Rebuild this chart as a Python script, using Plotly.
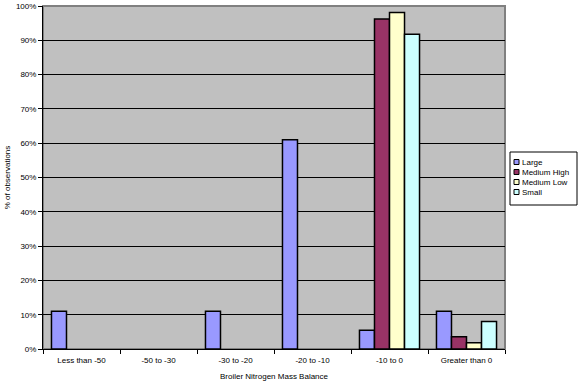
import plotly.graph_objects as go

categories = ["Less than -50", "-50 to -30", "-30 to -20", "-20 to -10", "-10 to 0", "Greater than 0"]
large = [0.11, 0.0, 0.11, 0.61, 0.055, 0.11]
medium_high = [0.0, 0.0, 0.0, 0.0, 0.962, 0.036]
medium_low = [0.0, 0.0, 0.0, 0.0, 0.981, 0.018]
small = [0.0, 0.0, 0.0, 0.0, 0.918, 0.08]

series = [
    ("Large", large, "#9999FF"),
    ("Medium High", medium_high, "#993366"),
    ("Medium Low", medium_low, "#FFFFCC"),
    ("Small", small, "#CCFFFF"),
]

W, H = 580, 383
ML_, MR_, MT_, MB_ = 43, 75, 6, 34
PW = W - ML_ - MR_
PH = H - MT_ - MB_

def px_to_paper_x(px):
    return (px - ML_) / PW

def px_to_paper_y(py):
    return (H - MB_ - py) / PH

fig = go.Figure()
for name, vals, col in series:
    fig.add_trace(go.Bar(
        x=categories, y=[v if v > 0 else None for v in vals], name=name,
        marker=dict(color=col, line=dict(color="black", width=1.5)),
        showlegend=False,
    ))

font = "Liberation Sans, Arial, sans-serif"
fig.update_layout(
    width=W, height=H,
    margin=dict(l=ML_, r=MR_, t=MT_, b=MB_, autoexpand=False),
    paper_bgcolor="white",
    plot_bgcolor="#C0C0C0",
    barmode="group",
    bargap=0.22,
    bargroupgap=0,
    font=dict(family=font, size=8, color="black"),
    showlegend=False,
    xaxis=dict(
        title=dict(text="Broiler Nitrogen Mass Balance", font=dict(size=8), standoff=9),
        showline=True, linecolor="black", linewidth=1,
        ticks="outside", tickson="boundaries", ticklen=4, tickcolor="black",
        ticklabelstandoff=3,
        showgrid=False,
    ),
    yaxis=dict(
        title=dict(text="% of observations", font=dict(size=8), standoff=4),
        range=[0, 1.0], dtick=0.1, tickformat=".0%",
        showline=True, linecolor="black", linewidth=1,
        ticks="outside", ticklen=4, tickcolor="black",
        showgrid=True, gridcolor="black", gridwidth=1,
        zeroline=False,
    ),
)
# grey frame of plot area (top/right visible)
fig.add_shape(type="rect", xref="paper", yref="paper", x0=0, x1=1, y0=0, y1=1,
              line=dict(color="#808080", width=2), layer="below")

# manual legend
fig.add_shape(type="rect", xref="paper", yref="paper",
              x0=px_to_paper_x(510), x1=px_to_paper_x(577),
              y0=px_to_paper_y(205), y1=px_to_paper_y(152),
              line=dict(color="black", width=1), fillcolor="white")
item_y = [162, 172, 182, 192]
for (name, vals, col), iy in zip(series, item_y):
    fig.add_shape(type="rect", xref="paper", yref="paper",
                  x0=px_to_paper_x(514), x1=px_to_paper_x(519),
                  y0=px_to_paper_y(iy + 2.5), y1=px_to_paper_y(iy - 2.5),
                  line=dict(color="black", width=1), fillcolor=col)
    fig.add_annotation(xref="paper", yref="paper", x=px_to_paper_x(520),
                       y=px_to_paper_y(iy), text=name, showarrow=False,
                       xanchor="left", yanchor="middle",
                       font=dict(family=font, size=8, color="black"))

fig.write_html("out.html", config={"displayModeBar": False},
               post_script="document.body.style.margin='0';document.body.style.overflow='hidden';")
